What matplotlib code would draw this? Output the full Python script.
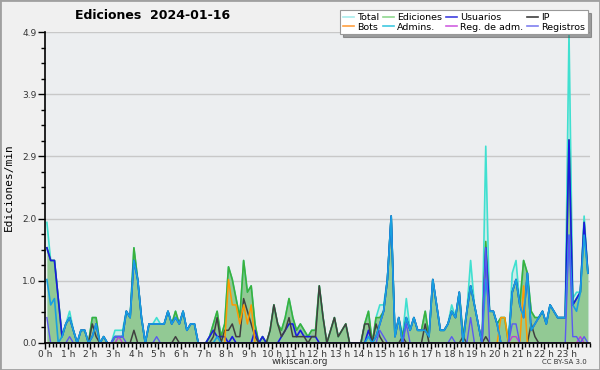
import numpy as np
import matplotlib
matplotlib.use("Agg")
import matplotlib.pyplot as plt
from matplotlib.ticker import MultipleLocator, FixedLocator
from matplotlib.lines import Line2D
from matplotlib.patches import Rectangle

# edits per minute, 10-minute bins (144 per day)
total = [1.9, 1.3, 1.3, 0.7, 0.1, 0.3, 0.5, 0.2, 0.0, 0.2, 0.2, 0.0,
         0.4, 0.4, 0.0, 0.1, 0.0, 0.0, 0.2, 0.2, 0.2, 0.5, 0.4, 1.5,
         1.0, 0.4, 0.0, 0.3, 0.3, 0.4, 0.3, 0.3, 0.5, 0.3, 0.5, 0.3,
         0.5, 0.2, 0.3, 0.3, 0.0, 0.0, 0.0, 0.1, 0.3, 0.5, 0.1, 0.3,
         1.2, 1.0, 0.7, 0.4, 1.3, 0.8, 0.9, 0.3, 0.0, 0.1, 0.0, 0.2,
         0.6, 0.3, 0.2, 0.4, 0.7, 0.4, 0.2, 0.3, 0.2, 0.1, 0.2, 0.2,
         0.9, 0.4, 0.0, 0.2, 0.4, 0.1, 0.2, 0.3, 0.0, 0.0, 0.0, 0.0,
         0.3, 0.5, 0.0, 0.4, 0.6, 0.6, 1.0, 2.0, 0.1, 0.4, 0.1, 0.7,
         0.2, 0.4, 0.2, 0.2, 0.5, 0.1, 1.0, 0.6, 0.2, 0.2, 0.3, 0.6,
         0.4, 0.8, 0.1, 0.5, 1.3, 0.6, 0.3, 0.0, 3.1, 0.5, 0.5, 0.3,
         0.4, 0.4, 0.0, 1.1, 1.3, 0.6, 1.3, 1.1, 0.5, 0.4, 0.4, 0.5,
         0.3, 0.6, 0.5, 0.4, 0.4, 0.4, 4.9, 0.7, 0.8, 0.8, 2.0, 1.1]

ediciones = [1.5, 1.3, 1.3, 0.7, 0.1, 0.3, 0.4, 0.2, 0.0, 0.2, 0.2, 0.0,
             0.4, 0.4, 0.0, 0.1, 0.0, 0.0, 0.1, 0.1, 0.1, 0.5, 0.4, 1.5,
             1.0, 0.4, 0.0, 0.3, 0.3, 0.3, 0.3, 0.3, 0.5, 0.3, 0.5, 0.3,
             0.5, 0.2, 0.3, 0.3, 0.0, 0.0, 0.0, 0.1, 0.3, 0.5, 0.1, 0.3,
             1.2, 1.0, 0.7, 0.4, 1.3, 0.8, 0.9, 0.3, 0.0, 0.1, 0.0, 0.2,
             0.6, 0.3, 0.2, 0.4, 0.7, 0.4, 0.2, 0.3, 0.2, 0.1, 0.2, 0.2,
             0.9, 0.4, 0.0, 0.2, 0.4, 0.1, 0.2, 0.3, 0.0, 0.0, 0.0, 0.0,
             0.3, 0.5, 0.0, 0.4, 0.4, 0.5, 1.0, 2.0, 0.1, 0.4, 0.1, 0.4,
             0.2, 0.4, 0.2, 0.2, 0.5, 0.1, 1.0, 0.6, 0.2, 0.2, 0.3, 0.5,
             0.4, 0.8, 0.1, 0.5, 0.9, 0.6, 0.3, 0.0, 1.6, 0.5, 0.5, 0.3,
             0.4, 0.4, 0.0, 0.8, 1.0, 0.6, 1.3, 1.1, 0.5, 0.4, 0.4, 0.5,
             0.3, 0.6, 0.5, 0.4, 0.4, 0.4, 3.2, 0.6, 0.7, 0.8, 1.9, 1.1]

usuarios = [1.5, 1.3, 1.3, 0.7, 0.1, 0.3, 0.4, 0.2, 0.0, 0.2, 0.2, 0.0,
            0.1, 0.3, 0.0, 0.1, 0.0, 0.0, 0.1, 0.1, 0.1, 0.5, 0.4, 1.3,
            1.0, 0.4, 0.0, 0.3, 0.3, 0.3, 0.3, 0.3, 0.5, 0.3, 0.4, 0.3,
            0.5, 0.2, 0.3, 0.3, 0.0, 0.0, 0.0, 0.1, 0.2, 0.1, 0.1, 0.1,
            0.0, 0.1, 0.0, 0.0, 0.0, 0.0, 0.0, 0.2, 0.0, 0.1, 0.0, 0.0,
            0.0, 0.0, 0.1, 0.2, 0.3, 0.3, 0.1, 0.2, 0.1, 0.1, 0.1, 0.1,
            0.0, 0.0, 0.0, 0.0, 0.0, 0.0, 0.0, 0.0, 0.0, 0.0, 0.0, 0.0,
            0.0, 0.2, 0.0, 0.1, 0.3, 0.5, 1.0, 2.0, 0.1, 0.4, 0.0, 0.4,
            0.2, 0.4, 0.2, 0.2, 0.2, 0.1, 1.0, 0.6, 0.2, 0.2, 0.3, 0.5,
            0.4, 0.8, 0.0, 0.5, 0.9, 0.6, 0.3, 0.0, 1.5, 0.5, 0.5, 0.3,
            0.0, 0.0, 0.0, 0.8, 1.0, 0.6, 0.4, 1.1, 0.2, 0.3, 0.4, 0.5,
            0.3, 0.6, 0.5, 0.4, 0.4, 0.4, 3.2, 0.6, 0.7, 0.8, 1.9, 1.1]

ip = [0.0, 0.0, 0.0, 0.0, 0.0, 0.0, 0.0, 0.0, 0.0, 0.0, 0.0, 0.0,
      0.3, 0.1, 0.0, 0.0, 0.0, 0.0, 0.0, 0.0, 0.0, 0.0, 0.0, 0.2,
      0.0, 0.0, 0.0, 0.0, 0.0, 0.0, 0.0, 0.0, 0.0, 0.0, 0.1, 0.0,
      0.0, 0.0, 0.0, 0.0, 0.0, 0.0, 0.0, 0.0, 0.1, 0.4, 0.0, 0.2,
      0.2, 0.3, 0.1, 0.1, 0.7, 0.5, 0.3, 0.1, 0.0, 0.0, 0.0, 0.2,
      0.6, 0.3, 0.1, 0.2, 0.4, 0.1, 0.1, 0.1, 0.1, 0.0, 0.1, 0.1,
      0.9, 0.4, 0.0, 0.2, 0.4, 0.1, 0.2, 0.3, 0.0, 0.0, 0.0, 0.0,
      0.3, 0.3, 0.0, 0.3, 0.1, 0.0, 0.0, 0.0, 0.0, 0.0, 0.1, 0.0,
      0.0, 0.0, 0.0, 0.0, 0.3, 0.0, 0.0, 0.0, 0.0, 0.0, 0.0, 0.0,
      0.0, 0.0, 0.1, 0.0, 0.0, 0.0, 0.0, 0.0, 0.1, 0.0, 0.0, 0.0,
      0.0, 0.0, 0.0, 0.0, 0.0, 0.0, 0.0, 0.0, 0.3, 0.1, 0.0, 0.0,
      0.0, 0.0, 0.0, 0.0, 0.0, 0.0, 0.0, 0.0, 0.0, 0.0, 0.0, 0.0]

bots = [0.0] * 48 + [1.0, 0.6, 0.6, 0.3, 0.6, 0.3, 0.6] + [0.0] * 65 + \
       [0.4, 0.4, 0.0, 0.0, 0.0, 0.0, 0.9] + [0.0] * 17

admins = [1.0, 0.6, 0.7, 0.0, 0.1, 0.3, 0.4, 0.2, 0.0, 0.2, 0.2, 0.0,
          0.1, 0.3, 0.0, 0.1, 0.0, 0.0, 0.1, 0.1, 0.1, 0.5, 0.4, 1.3,
          1.0, 0.4, 0.0, 0.3, 0.3, 0.3, 0.3, 0.3, 0.5, 0.3, 0.4, 0.3,
          0.5, 0.2, 0.3, 0.3, 0.0, 0.0, 0.0, 0.0, 0.0, 0.1, 0.0, 0.0,
          0.0, 0.0, 0.0, 0.0, 0.0, 0.0, 0.0, 0.0, 0.0, 0.0, 0.0, 0.0,
          0.0, 0.0, 0.0, 0.0, 0.0, 0.0, 0.0, 0.0, 0.0, 0.0, 0.0, 0.0,
          0.0, 0.0, 0.0, 0.0, 0.0, 0.0, 0.0, 0.0, 0.0, 0.0, 0.0, 0.0,
          0.0, 0.1, 0.0, 0.1, 0.3, 0.5, 1.0, 2.0, 0.1, 0.4, 0.0, 0.4,
          0.2, 0.4, 0.2, 0.2, 0.2, 0.1, 1.0, 0.6, 0.2, 0.2, 0.3, 0.5,
          0.4, 0.8, 0.0, 0.5, 0.9, 0.6, 0.3, 0.0, 1.0, 0.5, 0.5, 0.3,
          0.0, 0.0, 0.0, 0.8, 1.0, 0.6, 0.4, 1.1, 0.2, 0.3, 0.4, 0.5,
          0.3, 0.6, 0.5, 0.4, 0.4, 0.4, 1.7, 0.6, 0.5, 0.8, 1.7, 1.1]

reg_adm = [0.0] * 19 + [0.1] + [0.0] * 103 + [0.1, 0.1] + [0.0] * 16 + [0.1, 0.0, 0.0]

registros = [0.4, 0.0, 0.0, 0.0, 0.0, 0.0, 0.1, 0.0, 0.0, 0.0, 0.0, 0.0,
             0.0, 0.0, 0.0, 0.0, 0.0, 0.0, 0.1, 0.1, 0.1, 0.0, 0.0, 0.0,
             0.0, 0.0, 0.0, 0.0, 0.0, 0.1, 0.0, 0.0, 0.0, 0.0, 0.0, 0.0] + \
            [0.0] * 52 + [0.2, 0.1, 0.0, 0.0, 0.0, 0.0, 0.0, 0.3] + \
            [0.0] * 11 + [0.1, 0.0, 0.0, 0.0, 0.0, 0.4, 0.0, 0.0, 0.0, 1.5] + \
            [0.0] * 6 + [0.3, 0.3] + [0.0] * 13 + [1.7, 0.1, 0.1, 0.0, 0.1, 0.0]

hours = [f"{h} h" for h in range(24)]
title = "Ediciones  2024-01-16"

t = (np.arange(144) + 0.5) / 6.0
ymax = 4.9

fig = plt.figure(figsize=(6, 3.7), dpi=100, facecolor="#f0f0f0")
fig.patches.append(Rectangle((0, 0), 1, 1, transform=fig.transFigure, fill=False,
                             edgecolor="#a0a0a0", linewidth=2))
ax = fig.add_axes([0.075, 0.073, 0.908, 0.8405])
ax.set_facecolor("#eceef0")

# fills
ax.fill_between(t, 0, total, color="#40e0d0", alpha=0.18, lw=0)
ax.fill_between(t, 0, ediciones, color="#92c994", lw=0)
ax.fill_between(t, ediciones, usuarios, where=np.array(usuarios) > np.array(ediciones),
                color="#6a7fc0", alpha=0.4, lw=0)

ax.plot(t, total, color="#40e0d0", lw=1.2)
ax.plot(t, ediciones, color="#3cb03c", lw=1.2)
ax.plot(t, usuarios, color="#1a1ae0", lw=1.2)
ax.plot(t, ip, color="#404040", lw=1.1)
ax.plot(t, bots, color="#ff9900", lw=1.1)
ax.plot(t, admins, color="#18a0e0", lw=1.2)
ax.plot(t, reg_adm, color="#c040d0", lw=1.0)
ax.plot(t, registros, color="#5a5af0", lw=1.0)

ax.set_xlim(0, 24)
ax.set_ylim(0, ymax)

yt = [ymax * k / 5 for k in range(6)]
ax.yaxis.set_major_locator(FixedLocator(yt))
ax.yaxis.set_minor_locator(MultipleLocator(ymax / 20))
ax.set_yticklabels([f"{v:.1f}" for v in yt])
for v in yt[1:]:
    ax.axhline(v, color="#c8c8c8", lw=1, zorder=0)

ax.xaxis.set_major_locator(FixedLocator(range(24)))
ax.xaxis.set_minor_locator(MultipleLocator(1 / 6))
ax.set_xticklabels(hours)

ax.tick_params(axis="both", which="major", labelsize=6.5, colors="black",
               labelcolor="#333333", length=5, width=1, pad=1)
ax.tick_params(axis="x", which="major", length=4)
ax.tick_params(axis="both", which="minor", length=3, width=1)

for s in ["top", "right"]:
    ax.spines[s].set_visible(False)
ax.spines["left"].set_linewidth(1.2)
ax.spines["bottom"].set_linewidth(1.2)

ax.set_ylabel("Ediciones/min", fontsize=8, family="DejaVu Sans Mono", labelpad=6)

fig.text(0.255, 0.957, title, fontsize=9, fontweight="bold", ha="center", va="center")
fig.text(0.5, 0.022, "wikiscan.org", fontsize=6.5, ha="center", va="center", color="#333333")
fig.text(0.978, 0.022, "CC BY-SA 3.0", fontsize=5, ha="right", va="center", color="#333333")

handles = [Line2D([], [], color=c, lw=1.2) for c in
           ["#a8ecec", "#ffa040", "#90d890", "#40c8e0",
            "#4040e0", "#d060e0", "#404040", "#8080f0"]]
labels = ["Total", "Bots", "Ediciones", "Admins.", "Usuarios", "Reg. de adm.", "IP", "Registros"]
leg = fig.legend(handles, labels, ncol=4, loc="upper right", bbox_to_anchor=(0.988, 0.985),
                 fontsize=6.8, frameon=True, fancybox=False, shadow=True, edgecolor="#999999",
                 handlelength=1.2, handletextpad=0.3, columnspacing=0.4, labelspacing=0.05,
                 borderpad=0.3)
leg.get_frame().set_linewidth(0.8)

fig.savefig("out.png", dpi=100, facecolor=fig.get_facecolor())
